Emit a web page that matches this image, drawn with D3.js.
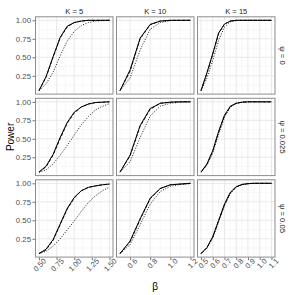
<!DOCTYPE html>
<html><head><meta charset="utf-8">
<script src="https://cdn.jsdelivr.net/npm/d3@7"></script>
<style>body{margin:0;background:#fff}svg{display:block}</style>
</head><body>
<script>
// ---- data ----
const kLabels = ["K = 5", "K = 10", "K = 15"];
const psiLabels = ["ψ = 0", "ψ = 0.025", "ψ = 0.05"];
const methods = ["solid", "dashed", "dotted"];

const betaK5  = [0.5,0.6,0.7,0.8,0.9,1.0,1.1,1.2,1.3,1.4,1.5];
const betaK10 = [0.5,0.6,0.7,0.8,0.9,1.0,1.1,1.2];
const betaK15 = [0.5,0.55,0.6,0.65,0.7,0.75,0.8,0.85,0.9,0.95,1.0,1.05,1.1];

const ticksK5  = [0.5,0.75,1.0,1.25,1.5];
const ticksK10 = [0.6,0.8,1.0,1.2];
const ticksK15 = [0.5,0.6,0.7,0.8,0.9,1.0,1.1];
const tickLabK5  = ["0.50","0.75","1.00","1.25","1.50"];
const tickLabK10 = ["0.6","0.8","1.0","1.2"];
const tickLabK15 = ["0.5","0.6","0.7","0.8","0.9","1.0","1.1"];
const yTicks = [0.25,0.5,0.75,1.0];
const yTickLab = ["0.25","0.50","0.75","1.00"];

// power[psi][K][method]
const powK5_psi0 = [
  [0.05,0.24,0.51,0.77,0.92,0.97,0.99,1.0,1.0,1.0,1.0],
  [0.05,0.23,0.50,0.76,0.91,0.97,0.99,1.0,1.0,1.0,1.0],
  [0.05,0.14,0.30,0.52,0.72,0.85,0.93,0.97,0.99,0.995,1.0]];
const powK10_psi0 = [
  [0.05,0.33,0.76,0.945,0.99,1.0,1.0,1.0],
  [0.05,0.31,0.75,0.94,0.99,1.0,1.0,1.0],
  [0.05,0.22,0.60,0.88,0.97,0.995,1.0,1.0]];
const powK15_psi0 = [
  [0.05,0.29,0.55,0.83,0.95,0.99,1,1,1,1,1,1,1],
  [0.05,0.28,0.54,0.82,0.95,0.99,1,1,1,1,1,1,1],
  [0.05,0.22,0.46,0.73,0.91,0.98,0.995,1,1,1,1,1,1]];
const powK5_psi025 = [
  [0.05,0.13,0.29,0.52,0.72,0.86,0.93,0.97,0.99,0.995,1.0],
  [0.05,0.12,0.28,0.50,0.71,0.85,0.93,0.97,0.99,0.995,1.0],
  [0.05,0.08,0.16,0.28,0.41,0.55,0.69,0.80,0.89,0.94,0.975]];
const powK10_psi025 = [
  [0.05,0.28,0.68,0.91,0.98,0.995,1.0,1.0],
  [0.05,0.27,0.67,0.90,0.98,0.995,1.0,1.0],
  [0.05,0.19,0.52,0.81,0.94,0.98,0.995,1.0]];
const powK15_psi025 = [
  [0.05,0.16,0.34,0.60,0.82,0.94,0.98,0.995,1,1,1,1,1],
  [0.05,0.15,0.33,0.59,0.81,0.94,0.98,0.995,1,1,1,1,1],
  [0.05,0.14,0.31,0.56,0.79,0.93,0.98,0.995,1,1,1,1,1]];
const powK5_psi05 = [
  [0.05,0.11,0.24,0.45,0.66,0.81,0.90,0.945,0.965,0.98,0.99],
  [0.05,0.10,0.23,0.44,0.65,0.80,0.90,0.945,0.965,0.98,0.99],
  [0.05,0.08,0.15,0.25,0.37,0.49,0.62,0.74,0.83,0.90,0.95]];
const powK10_psi05 = [
  [0.05,0.22,0.52,0.80,0.93,0.98,0.99,1.0],
  [0.05,0.21,0.51,0.79,0.93,0.98,0.99,1.0],
  [0.05,0.17,0.44,0.72,0.89,0.96,0.985,0.995]];
const powK15_psi05 = [
  [0.05,0.13,0.28,0.50,0.72,0.88,0.955,0.985,0.995,1,1,1,1],
  [0.05,0.13,0.27,0.49,0.71,0.87,0.95,0.985,0.995,1,1,1,1],
  [0.05,0.12,0.26,0.48,0.70,0.86,0.95,0.98,0.995,1,1,1,1]];

// ---- layout ----
const W = 295, H = 295;
const colX = [35.5, 116.5, 197.5], pw = 77.5;
const rowY = [16.8, 98.3, 179.8], ph = 77.3;
const betas = [betaK5, betaK10, betaK15];
const xticks = [ticksK5, ticksK10, ticksK15];
const xtickLabs = [tickLabK5, tickLabK10, tickLabK15];
const xMinor = [[0.625,0.875,1.125,1.375],[0.5,0.7,0.9,1.1],[0.55,0.65,0.75,0.85,0.95,1.05]];
const yMinor = [0.125,0.375,0.625,0.875];
const powers = [
  [powK5_psi0, powK10_psi0, powK15_psi0],
  [powK5_psi025, powK10_psi025, powK15_psi025],
  [powK5_psi05, powK10_psi05, powK15_psi05]];
const dash = {solid: null, dashed: "3.2,1.6", dotted: "1,1.6"};

const svg = d3.select("body").append("svg").attr("width", W).attr("height", H)
  .style("font-family", "'Liberation Sans', Arial, sans-serif");

function expand(lo, hi) { const d = (hi - lo) * 0.05; return [lo - d, hi + d]; }

for (let r = 0; r < 3; r++) {
  for (let c = 0; c < 3; c++) {
    const b = betas[c];
    const x = d3.scaleLinear().domain(expand(d3.min(b), d3.max(b))).range([colX[c], colX[c] + pw]);
    const y = d3.scaleLinear().domain(expand(0.05, 1.0)).range([rowY[r] + ph, rowY[r]]);
    const g = svg.append("g");
    g.append("rect").attr("x", colX[c]).attr("y", rowY[r]).attr("width", pw).attr("height", ph).attr("fill", "#fff");
    g.selectAll(".xmin").data(xMinor[c]).enter().append("line")
      .attr("x1", d => x(d)).attr("x2", d => x(d)).attr("y1", rowY[r]).attr("y2", rowY[r] + ph)
      .attr("stroke", "#f3f3f3").attr("stroke-width", 0.6);
    g.selectAll(".ymin").data(yMinor).enter().append("line")
      .attr("y1", d => y(d)).attr("y2", d => y(d)).attr("x1", colX[c]).attr("x2", colX[c] + pw)
      .attr("stroke", "#f3f3f3").attr("stroke-width", 0.6);
    g.selectAll(".xmaj").data(xticks[c]).enter().append("line")
      .attr("x1", d => x(d)).attr("x2", d => x(d)).attr("y1", rowY[r]).attr("y2", rowY[r] + ph)
      .attr("stroke", "#e6e6e6").attr("stroke-width", 0.9);
    g.selectAll(".ymaj").data(yTicks).enter().append("line")
      .attr("y1", d => y(d)).attr("y2", d => y(d)).attr("x1", colX[c]).attr("x2", colX[c] + pw)
      .attr("stroke", "#e6e6e6").attr("stroke-width", 0.9);
    const line = d3.line().x(d => x(d[0])).y(d => y(d[1]));
    methods.forEach((m, mi) => {
      const pts = b.map((bv, i) => [bv, powers[r][c][mi][i]]);
      g.append("path").attr("d", line(pts)).attr("fill", "none")
        .attr("stroke", "#000").attr("stroke-width", m === "solid" ? 1.0 : 0.9)
        .attr("stroke-dasharray", dash[m]);
    });
    g.append("rect").attr("x", colX[c]).attr("y", rowY[r]).attr("width", pw).attr("height", ph)
      .attr("fill", "none").attr("stroke", "#8c8c8c").attr("stroke-width", 1);
    if (c === 0) {
      const ya = d3.axisLeft(y).tickValues(yTicks).tickFormat((d, i) => yTickLab[i]).tickSize(2.5).tickPadding(1.5);
      const ag = svg.append("g").attr("transform", `translate(${colX[0] - 0.5},0)`).call(ya);
      ag.select(".domain").remove();
      ag.selectAll("line").attr("stroke", "#4d4d4d").attr("stroke-width", 0.8);
      ag.selectAll("text").attr("fill", "#4d4d4d").style("font-size", "7.8px");
    }
    if (r === 2) {
      const xa = d3.axisBottom(x).tickValues(xticks[c]).tickFormat((d, i) => xtickLabs[c][i]).tickSize(2.5).tickPadding(1);
      const ag = svg.append("g").attr("transform", `translate(0,${rowY[2] + ph + 0.5})`).call(xa);
      ag.select(".domain").remove();
      ag.selectAll("line").attr("stroke", "#4d4d4d").attr("stroke-width", 0.8);
      ag.selectAll("text").attr("fill", "#4d4d4d").style("font-size", "7.5px")
        .attr("text-anchor", "end").attr("dy", "0.6em").attr("dx", "0.3em")
        .attr("transform", "rotate(-45)")
        .attr("y", 3.5).attr("x", 0);
    }
  }
}
kLabels.forEach((k, c) => {
  svg.append("text").attr("x", colX[c] + pw / 2).attr("y", 13.5).attr("text-anchor", "middle")
    .attr("fill", "#1a1a1a").style("font-size", "7.6px").text(k);
});
psiLabels.forEach((p, r) => {
  const cx = colX[2] + pw + 7.5, cy = rowY[r] + ph / 2;
  svg.append("text").attr("transform", `translate(${cx},${cy}) rotate(90)`)
    .attr("text-anchor", "middle").attr("dy", "0.35em")
    .attr("fill", "#1a1a1a").style("font-size", "7.6px").text(p);
});
svg.append("text").attr("transform", `translate(10.5,${rowY[0] + (rowY[2] + ph - rowY[0]) / 2}) rotate(-90)`)
  .attr("text-anchor", "middle").attr("dy", "0.35em").style("font-size", "10px").attr("fill", "#000").text("Power");
svg.append("text").attr("x", colX[0] + (colX[2] + pw - colX[0]) / 2).attr("y", 290)
  .attr("text-anchor", "middle").style("font-size", "10px").attr("fill", "#000").text("β");
</script>
</body></html>
